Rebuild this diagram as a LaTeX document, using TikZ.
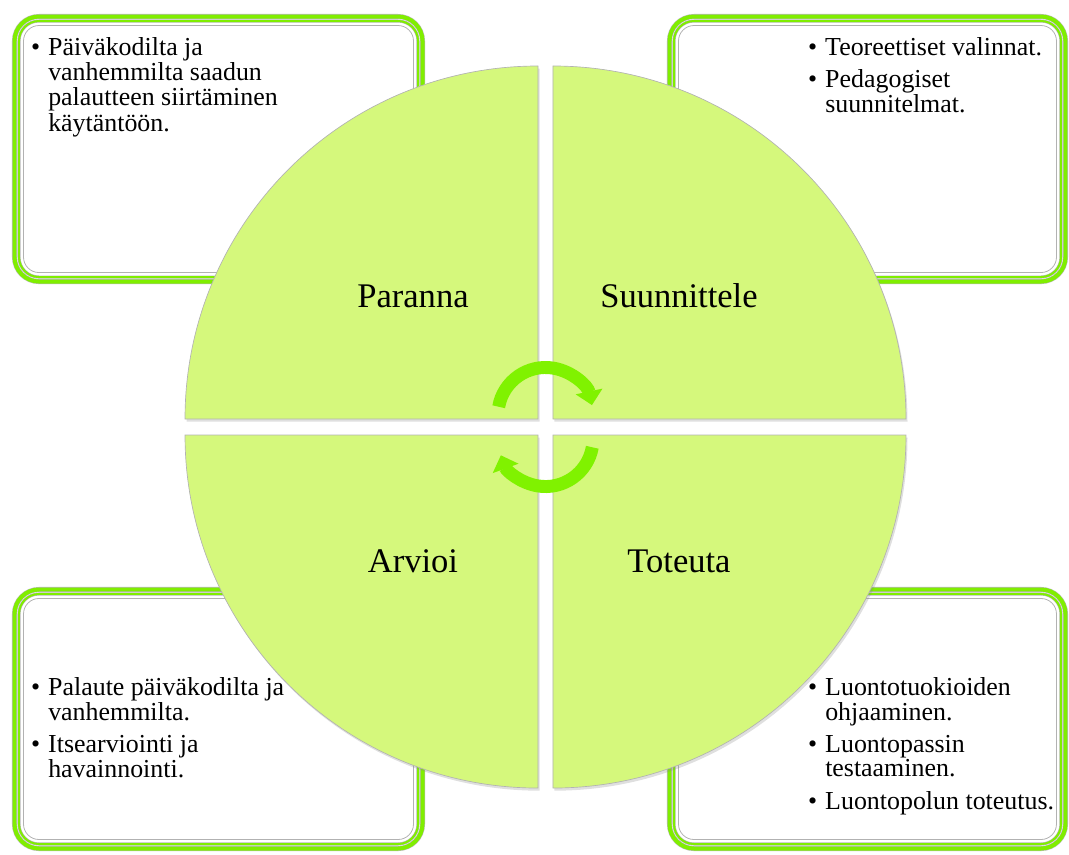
\documentclass[tikz,border=0pt]{standalone}
\usepackage{fontspec}
\setmainfont{Liberation Serif}
\usetikzlibrary{arrows.meta,shadows}

\definecolor{quadgreen}{RGB}{213,248,124}
\definecolor{ringgreen}{RGB}{128,238,0}
\definecolor{arrowgreen}{RGB}{128,242,0}

\tikzset{
  quad/.style={fill=quadgreen, draw=gray!60, line width=0.5pt,
    drop shadow={shadow xshift=0.04cm, shadow yshift=-0.07cm, opacity=0.25}},
  ringA/.style={draw=gray!55, line width=0.4pt, double=ringgreen, double distance=3pt, rounded corners=0.648cm},
  ringB/.style={draw=gray!55, line width=0.4pt, double=ringgreen, double distance=1.5pt, rounded corners=0.529cm},
  ringC/.style={draw=gray!60, line width=0.6pt, rounded corners=0.41cm},
  title/.style={font=\fontsize{26}{30}\selectfont, anchor=base, inner sep=0pt},
  notes/.style={font=\fontsize{19.5}{18.75}\selectfont, anchor=base west, inner sep=0pt},
  cyc/.style={draw=arrowgreen, line width=9.75pt, -{Triangle[width=20pt,length=10.5pt]}}
}
\newcommand{\bul}{\llap{\textbullet\hspace{6pt}}}

\begin{document}
\begin{tikzpicture}
\useasboundingbox (-14.433,-11.298) rectangle (13.851,11.298);

% frames behind the circle
\foreach \xa/\ya/\xb/\yb in {-14.115/10.927/-3.188/3.783, 3.215/10.927/13.824/3.783, -14.115/-4.233/-3.188/-11.218, 3.215/-4.233/13.824/-11.218}{
  \draw[ringA] (\xa+0.066,\ya-0.066) rectangle (\xb-0.066,\yb+0.066);
  \draw[ringB] (\xa+0.185,\ya-0.185) rectangle (\xb-0.185,\yb+0.185);
  \draw[ringC] (\xa+0.304,\ya-0.304) rectangle (\xb-0.304,\yb+0.304);
}

% the four quarters
\draw[quad] (-0.198,0.212) -- ++(180:9.34) arc (180:90:9.34) -- cycle;
\draw[quad] (0.198,0.212) -- ++(90:9.34) arc (90:0:9.34) -- cycle;
\draw[quad] (-0.198,-0.212) -- ++(270:9.34) arc (270:180:9.34) -- cycle;
\draw[quad] (0.198,-0.212) -- ++(0:9.34) arc (0:-90:9.34) -- cycle;

% cycle arrows
\draw[cyc] ([shift={(170:1.257)}]0,0.318) arc (170:12:1.257);
\draw[cyc] ([shift={(-10:1.257)}]0,-0.318) arc (-10:-160:1.257);

\node[title] (paranna) at (-3.506,3.175) {Paranna};
\node[title] (suunnittele) at (3.532,3.175) {Suunnittele};
\node[title] (arvioi) at (-3.506,-3.836) {Arvioi};
\node[title] (toteuta) at (3.532,-3.836) {Toteuta};

\node[notes] (paranna-t) at (-13.163,9.842) {\begin{tabular}[t]{@{}l@{}}
  \bul Päiväkodilta ja\\ vanhemmilta saadun\\ palautteen siirtäminen\\ käytäntöön.\end{tabular}};
\node[notes] (suunnittele-t) at (7.395,9.842) {\begin{tabular}[t]{@{}l@{}}
  \bul Teoreettiset valinnat.\\[5pt] \bul Pedagogiset\\ suunnitelmat.\end{tabular}};
\node[notes] (arvioi-t) at (-13.163,-7.091) {\begin{tabular}[t]{@{}l@{}}
  \bul Palaute päiväkodilta ja\\ vanhemmilta.\\[5pt] \bul Itsearviointi ja\\ havainnointi.\end{tabular}};
\node[notes] (toteuta-t) at (7.395,-7.091) {\begin{tabular}[t]{@{}l@{}}
  \bul Luontotuokioiden\\ ohjaaminen.\\[5pt] \bul Luontopassin\\ testaaminen.\\[5pt] \bul Luontopolun toteutus.\end{tabular}};
\end{tikzpicture}
\end{document}
